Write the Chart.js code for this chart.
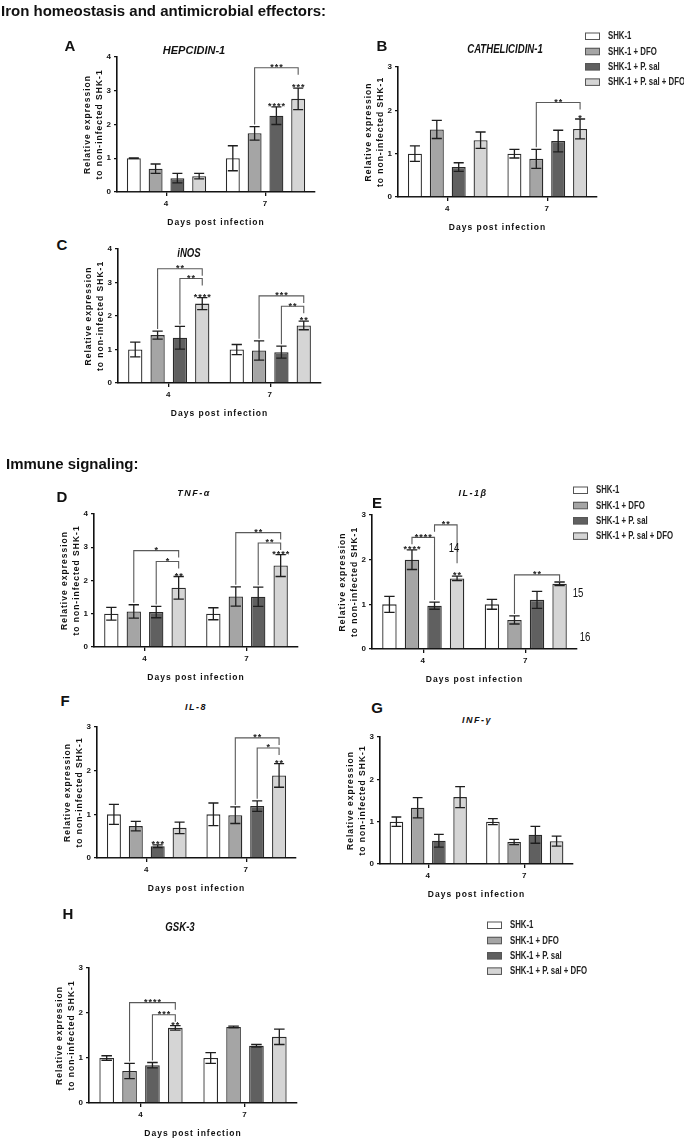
<!DOCTYPE html>
<html>
<head>
<meta charset="utf-8">
<script src="https://cdn.jsdelivr.net/npm/chart.js@4.4.1/dist/chart.umd.min.js"></script>
<style>
  html, body { margin: 0; padding: 0; background: #fff; }
  #fig { position: relative; width: 685px; height: 1140px; overflow: hidden; background: #fff;
         font-family: "Liberation Sans", Arial, sans-serif; color: #111; }
  #fig canvas { position: absolute; }
  .lbl { position: absolute; white-space: nowrap; transform: translate(-50%, -50%); line-height: 1; }
  .lbl.narrow { transform: translate(-50%, -50%) scaleX(0.8); }
  .head { position: absolute; white-space: nowrap; transform: translateY(-50%); line-height: 1;
          font-weight: bold; font-size: 15px; }
</style>
</head>
<body>
<div id="fig"></div>
<script>
// 横轴类别与处理组
const days = ['4', '7'];
const treatments = ['SHK-1', 'SHK-1 + DFO', 'SHK-1 + P. sal', 'SHK-1 + P. sal + DFO'];

// 每个基因: 均值 / 误差 [day][treatment], 显著性星号, 比较括号 [day, from, to, level, label, longSide]
const hepcidinMean = [[1.00, 0.69, 0.41, 0.47], [1.00, 1.74, 2.26, 2.76]];
const hepcidinSem = [[0.01, 0.14, 0.14, 0.08], [0.37, 0.20, 0.26, 0.32]];
const hepcidinStars = [['', '', '', ''], ['', '', '****', '***']];
const hepcidinBrackets = [[1, 1, 3, 3.68, '***']];

const cathelicidinMean = [[1.00, 1.56, 0.69, 1.31], [1.00, 0.88, 1.29, 1.57]];
const cathelicidinSem = [[0.18, 0.21, 0.10, 0.19], [0.10, 0.22, 0.25, 0.23]];
const cathelicidinStars = [['', '', '', ''], ['', '', '', '*']];
const cathelicidinBrackets = [[1, 1, 3, 2.18, '**']];

const inosMean = [[1.00, 1.43, 1.35, 2.37], [1.00, 0.97, 0.92, 1.72]];
const inosSem = [[0.22, 0.12, 0.34, 0.18], [0.15, 0.29, 0.18, 0.13]];
const inosStars = [['', '', '', '****'], ['', '', '', '**']];
const inosBrackets = [[0, 1, 3, 3.41, '**'], [0, 2, 3, 3.12, '**'], [1, 1, 3, 2.6, '***'], [1, 2, 3, 2.29, '**']];

const tnfMean = [[1.00, 1.07, 1.05, 1.78], [1.00, 1.52, 1.51, 2.45]];
const tnfSem = [[0.19, 0.20, 0.17, 0.34], [0.18, 0.29, 0.29, 0.33]];
const tnfStars = [['', '', '', '**'], ['', '', '', '****']];
const tnfBrackets = [[0, 1, 3, 2.9, '*'], [0, 2, 3, 2.57, '*'], [1, 1, 3, 3.44, '**'], [1, 2, 3, 3.13, '**']];

const il1bMean = [[1.00, 2.00, 0.97, 1.58], [1.00, 0.65, 1.10, 1.46]];
const il1bSem = [[0.18, 0.22, 0.08, 0.05], [0.11, 0.09, 0.19, 0.04]];
const il1bStars = [['', '****', '', '**'], ['', '', '', '']];
const il1bBrackets = [[0, 1, 2, 2.5, '****', 'to'], [0, 2, 3, 2.78, '**', 'to'], [1, 1, 3, 1.66, '**']];

const il8Mean = [[1.00, 0.73, 0.27, 0.69], [1.00, 0.98, 1.19, 1.89]];
const il8Sem = [[0.23, 0.11, 0.03, 0.13], [0.26, 0.19, 0.12, 0.27]];
const il8Stars = [['', '', '***', ''], ['', '', '', '**']];
const il8Brackets = [[1, 1, 3, 2.75, '**'], [1, 2, 3, 2.52, '*']];

const infgMean = [[1.00, 1.33, 0.55, 1.58], [1.00, 0.52, 0.69, 0.54]];
const infgSem = [[0.11, 0.24, 0.15, 0.25], [0.07, 0.06, 0.20, 0.12]];
const infgStars = [['', '', '', ''], ['', '', '', '']];
const infgBrackets = [];

const gsk3Mean = [[1.00, 0.71, 0.84, 1.67], [1.00, 1.69, 1.27, 1.47]];
const gsk3Sem = [[0.05, 0.17, 0.06, 0.05], [0.12, 0.02, 0.03, 0.17]];
const gsk3Stars = [['', '', '', '**'], ['', '', '', '']];
const gsk3Brackets = [[0, 1, 3, 2.23, '****'], [0, 2, 3, 1.96, '***']];

const fills = ['#ffffff', '#a5a5a5', '#606060', '#d5d5d5'];
const SANS = '"Liberation Sans", Arial, sans-serif';

const titleArial = { fontWeight: 'bold', fontStyle: 'italic', fontSize: '11px' };
const titleNarrow = { fontWeight: 'bold', fontStyle: 'italic', fontSize: '12px' };
const titleSpaced = { fontWeight: 'bold', fontStyle: 'italic', fontSize: '9px', letterSpacing: '1.5px' };

const panels = [
  { id: 'A', gene: 'HEPCIDIN-1', mean: hepcidinMean, sem: hepcidinSem, stars: hepcidinStars, brackets: hepcidinBrackets,
    yMax: 4, box: { x0: 117, x1: 315, top: 57, zero: 192 }, letter: [70, 45], title: [194, 50], titleCss: titleArial },
  { id: 'B', gene: 'CATHELICIDIN-1', mean: cathelicidinMean, sem: cathelicidinSem, stars: cathelicidinStars, brackets: cathelicidinBrackets,
    yMax: 3, box: { x0: 398, x1: 597, top: 67, zero: 197 }, letter: [382, 45], title: [505, 49], titleCss: titleNarrow, narrow: true,
    legend: { x: 585, y: 36, gap: 15.3 } },
  { id: 'C', gene: 'iNOS', mean: inosMean, sem: inosSem, stars: inosStars, brackets: inosBrackets,
    yMax: 4, box: { x0: 118, x1: 321, top: 249, zero: 383 }, letter: [62, 244], title: [189, 253], titleCss: titleNarrow, narrow: true },
  { id: 'D', gene: 'TNF-α', mean: tnfMean, sem: tnfSem, stars: tnfStars, brackets: tnfBrackets,
    yMax: 4, box: { x0: 94, x1: 298, top: 514, zero: 647 }, letter: [62, 496], title: [194, 493], titleCss: titleSpaced },
  { id: 'E', gene: 'IL-1β', mean: il1bMean, sem: il1bSem, stars: il1bStars, brackets: il1bBrackets,
    yMax: 3, box: { x0: 372, x1: 577, top: 515, zero: 649 }, letter: [377, 502], title: [473, 493], titleCss: titleSpaced,
    legend: { x: 573, y: 490, gap: 15.3 } },
  { id: 'F', gene: 'IL-8', mean: il8Mean, sem: il8Sem, stars: il8Stars, brackets: il8Brackets,
    yMax: 3, box: { x0: 97, x1: 296, top: 727, zero: 858 }, letter: [65, 700], title: [196, 707], titleCss: titleSpaced },
  { id: 'G', gene: 'INF-γ', mean: infgMean, sem: infgSem, stars: infgStars, brackets: infgBrackets,
    yMax: 3, box: { x0: 380, x1: 573, top: 737, zero: 864 }, letter: [377, 707], title: [477, 720], titleCss: titleSpaced },
  { id: 'H', gene: 'GSK-3', mean: gsk3Mean, sem: gsk3Sem, stars: gsk3Stars, brackets: gsk3Brackets,
    yMax: 3, box: { x0: 89, x1: 297, top: 968, zero: 1103 }, letter: [68, 913], title: [180, 927], titleCss: titleNarrow, narrow: true,
    legend: { x: 487, y: 925, gap: 15.3 } }
];

Chart.defaults.font.family = SANS;
Chart.defaults.color = '#111';

const fig = document.getElementById('fig');

function addText(txt, x, y, css, cls) {
  const d = document.createElement('div');
  d.className = cls || 'lbl';
  d.textContent = txt;
  d.style.left = x + 'px';
  d.style.top = y + 'px';
  Object.assign(d.style, css || {});
  fig.appendChild(d);
}

function buildPanel(p) {
  const canvasTop = p.legend ? p.legend.y - 8 : p.box.top - 12;
  const canvasLeft = p.box.x0 - 45;
  const padTop = p.box.top - canvasTop;
  const padRight = p.legend ? 684 - p.box.x1 : 12;
  const w = p.box.x1 - canvasLeft + padRight;
  const h = p.box.zero - canvasTop + 40;

  const cv = document.createElement('canvas');
  cv.width = w;
  cv.height = h;
  cv.style.left = canvasLeft + 'px';
  cv.style.top = canvasTop + 'px';
  cv.style.width = w + 'px';
  cv.style.height = h + 'px';
  fig.appendChild(cv);

  // 误差线、星号、比较括号、图例
  const extras = {
    id: 'extras' + p.id,
    beforeDraw(chart) {
      chart.ctx.letterSpacing = '1px';
    },
    afterDatasetsDraw(chart) {
      const ctx = chart.ctx;
      const y = chart.scales.y;
      const topOf = (d, g) => y.getPixelForValue(p.mean[d][g] + p.sem[d][g]);
      ctx.save();
      ctx.letterSpacing = '1px';

      chart.data.datasets.forEach((ds, g) => {
        chart.getDatasetMeta(g).data.forEach((bar, d) => {
          const m = p.mean[d][g], e = p.sem[d][g];
          const yt = y.getPixelForValue(m + e);
          const yb = y.getPixelForValue(m - e);
          const cap = bar.width * 0.36;
          ctx.strokeStyle = '#1e1e1e';
          ctx.lineWidth = 1.3;
          ctx.beginPath();
          ctx.moveTo(bar.x, yt); ctx.lineTo(bar.x, yb);
          ctx.moveTo(bar.x - cap, yt); ctx.lineTo(bar.x + cap, yt);
          ctx.moveTo(bar.x - cap, yb); ctx.lineTo(bar.x + cap, yb);
          ctx.stroke();

          const s = p.stars[d][g];
          if (s) {
            ctx.fillStyle = '#222';
            ctx.font = 'bold 9px ' + SANS;
            ctx.textAlign = 'center';
            ctx.textBaseline = 'alphabetic';
            ctx.fillText(s, bar.x + 0.5, yt + 2);
          }
        });
      });

      p.brackets.forEach(([d, a, b, level, label, longSide]) => {
        const xa = chart.getDatasetMeta(a).data[d].x;
        const xb = chart.getDatasetMeta(b).data[d].x;
        const yl = y.getPixelForValue(level);
        const longEnd = (g) => topOf(d, g) - 2 - (p.stars[d][g] ? 11 : 0);
        const endA = longSide === 'to' ? yl + 7 : longEnd(a);
        const endB = longSide === 'to' ? longEnd(b) : yl + 7;
        ctx.strokeStyle = '#5a5a5a';
        ctx.lineWidth = 1.1;
        ctx.beginPath();
        ctx.moveTo(xa, endA);
        ctx.lineTo(xa, yl);
        ctx.lineTo(xb, yl);
        ctx.lineTo(xb, endB);
        ctx.stroke();
        ctx.fillStyle = '#222';
        ctx.font = 'bold 9px ' + SANS;
        ctx.textAlign = 'center';
        ctx.textBaseline = 'alphabetic';
        ctx.fillText(label, (xa + xb) / 2 + 0.5, yl + 2.5);
      });
      ctx.restore();
    },
    afterDraw(chart) {
      if (!p.legend) return;
      const ctx = chart.ctx;
      ctx.save();
      ctx.letterSpacing = '0px';
      chart.data.datasets.forEach((ds, i) => {
        const lx = p.legend.x - canvasLeft;
        const ly = p.legend.y + i * p.legend.gap - canvasTop;
        ctx.fillStyle = ds.backgroundColor;
        ctx.fillRect(lx, ly - 3.5, 15, 7);
        ctx.strokeStyle = '#555';
        ctx.lineWidth = 1;
        ctx.strokeRect(lx + 0.5, ly - 3, 14, 6.5);
        // 窄体字: 水平压缩
        ctx.save();
        ctx.translate(lx + 23, ly + 0.5);
        ctx.scale(0.78, 1);
        ctx.fillStyle = '#222';
        ctx.font = 'bold 10px ' + SANS;
        ctx.textAlign = 'left';
        ctx.textBaseline = 'middle';
        ctx.fillText(ds.label, 0, 0);
        ctx.restore();
      });
      ctx.restore();
    }
  };

  new Chart(cv, {
    type: 'bar',
    data: {
      labels: days,
      datasets: treatments.map((t, g) => ({
        label: t,
        data: p.mean.map(row => row[g]),
        backgroundColor: fills[g],
        borderColor: '#2a2a2a',
        borderWidth: 1.3,
        borderSkipped: 'bottom',
        categoryPercentage: 0.88,
        barPercentage: 0.64
      }))
    },
    options: {
      responsive: false,
      animation: false,
      devicePixelRatio: 1,
      events: [],
      layout: { padding: { left: 5, top: padTop, right: padRight, bottom: 2 } },
      plugins: { legend: { display: false }, tooltip: { enabled: false } },
      scales: {
        x: {
          grid: { display: true, drawOnChartArea: false, offset: false, tickLength: 4, color: '#111', lineWidth: 1.3 },
          border: { display: true, color: '#111', width: 1.6 },
          ticks: { font: { size: 8, weight: 'bold' }, color: '#111', padding: 3 },
          title: { display: true, text: 'Days post infection', font: { size: 8.5, weight: 'bold', lineHeight: 1.2 },
                   color: '#111', padding: { top: 0, bottom: 2 } },
          afterFit(scale) { scale.height = 38; }
        },
        y: {
          min: 0,
          max: p.yMax,
          grid: { display: true, drawOnChartArea: false, tickLength: 3, color: '#111', lineWidth: 1.3 },
          border: { display: true, color: '#111', width: 1.6 },
          ticks: { stepSize: 1, font: { size: 8, weight: 'bold' }, color: '#111', padding: 2 },
          title: { display: true, text: ['Relative expression', 'to non-infected SHK-1'],
                   font: { size: 8.5, weight: 'bold', lineHeight: 1.4 }, color: '#111', padding: { top: 5, bottom: 0 } },
          afterFit(scale) { scale.width = 40; }
        }
      }
    },
    plugins: [extras]
  });

  addText(p.id, p.letter[0], p.letter[1], { fontWeight: 'bold', fontSize: '15px' });
  addText(p.gene, p.title[0], p.title[1], p.titleCss, p.narrow ? 'lbl narrow' : 'lbl');
}

panels.forEach(buildPanel);

addText('Iron homeostasis and antimicrobial effectors:', 1, 10, null, 'head');
addText('Immune signaling:', 6, 463, null, 'head');

// 原图中残留的编号
const strayCss = { fontSize: '12px' };
addText('14', 454, 548, strayCss, 'lbl narrow');
addText('15', 578, 593, strayCss, 'lbl narrow');
addText('16', 585, 637, strayCss, 'lbl narrow');
</script>
</body>
</html>
